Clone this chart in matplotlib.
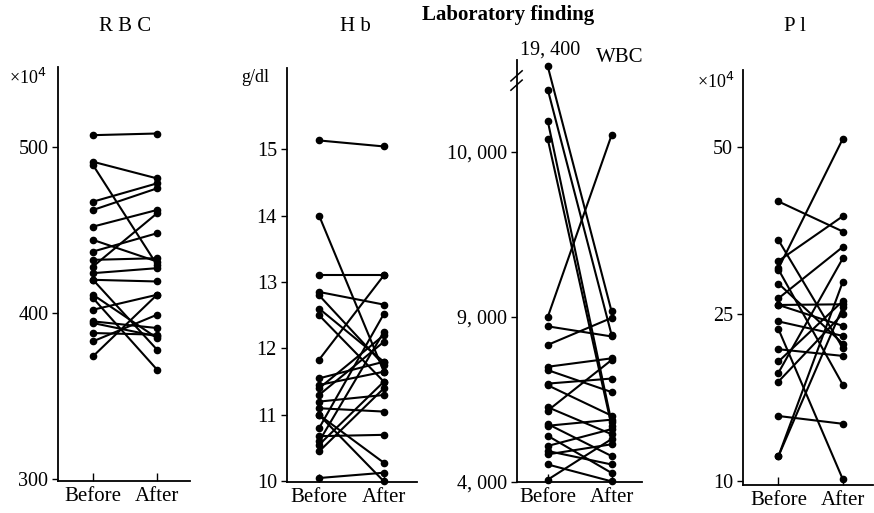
import numpy as np
import matplotlib
matplotlib.use("Agg")
import matplotlib.pyplot as plt

plt.rcParams['font.family'] = ['Liberation Serif', 'DejaVu Serif']

# values (before / after for each patient)
rbc_before = [507, 491, 489, 467, 462, 452, 444, 437, 432, 428, 424, 420, 420, 411, 409, 402, 395, 394, 388, 383, 374]
rbc_after = [508, 481, 429, 478, 475, 462, 431, 448, 433, 460, 427, 419, 378, 385, 366, 411, 391, 386, 387, 399, 411]

hb_before = [15.13, 14.0, 13.1, 12.85, 12.8, 12.6, 12.5, 11.83, 11.55, 11.45, 11.4, 11.3, 11.2, 11.1,
             11.0, 11.0, 10.8, 10.68, 10.6, 10.55, 10.45, 10.05]
hb_after = [15.04, 11.65, 13.1, 12.66, 11.75, 11.8, 11.5, 13.1, 11.8, 11.65, 12.2, 12.1, 11.3, 11.05,
            10.0, 10.28, 12.52, 10.7, 12.25, 11.5, 11.4, 10.13]

wbc_before = [19400, 10377, 10186, 10076, 9000, 8714, 8153, 7490, 7388, 6980, 6929, 6265, 6163,
              5755, 5704, 5398, 5092, 4939, 4837, 4531, 4071]
wbc_after = [9034, 8459, 5806, 5704, 10100, 8408, 8969, 7745, 6724, 7133, 6010, 5449, 7694,
             4786, 5888, 4276, 5602, 4531, 5143, 4020, 5300]

pl_before = [41.8, 36.0, 32.9, 31.8, 31.6, 29.5, 27.3, 26.3, 26.3, 24.3, 23.6, 21.8, 20.7, 19.7,
             18.9, 15.8, 12.2, 12.2]
pl_after = [37.3, 21.9, 39.6, 51.2, 18.6, 22.3, 35.0, 26.4, 23.9, 23.0, 10.1, 21.2, 26.9, 33.3,
            25.0, 15.1, 29.8, 26.0]

# the printed axes are not linear, so use piecewise scales that follow the printed ticks
wbc_vals = [4000, 9000, 10000, 10500, 19400, 30000]
wbc_pos = [0, 1, 2, 2.5, 2.517, 2.6]
pl_vals = [0, 10, 25, 50, 100]
pl_pos = [-10 / 15, 0, 1, 2, 4]


def fwd(v, p):
    return lambda x: np.interp(x, v, p)


def inv(v, p):
    return lambda x: np.interp(x, p, v)


fig = plt.figure(figsize=(8.74, 5.13), dpi=100)

ax1 = fig.add_axes([0.0664, 0.0624, 0.151, 0.807])
ax2 = fig.add_axes([0.328, 0.0604, 0.149, 0.807])
ax3 = fig.add_axes([0.591, 0.0604, 0.143, 0.823])
ax4 = fig.add_axes([0.850, 0.0546, 0.149, 0.809])

ax3.set_yscale('function', functions=(fwd(wbc_vals, wbc_pos), inv(wbc_vals, wbc_pos)))
ax4.set_yscale('function', functions=(fwd(pl_vals, pl_pos), inv(pl_vals, pl_pos)))

panels = [(ax1, rbc_before, rbc_after), (ax2, hb_before, hb_after),
          (ax3, wbc_before, wbc_after), (ax4, pl_before, pl_after)]

for ax, b, a in panels:
    for i in range(len(b)):
        ax.plot([0, 1], [b[i], a[i]], '-o', color='black', lw=1.5, ms=4.5, clip_on=False)
    ax.spines['top'].set_visible(False)
    ax.spines['right'].set_visible(False)
    ax.spines['left'].set_linewidth(1.3)
    ax.spines['bottom'].set_linewidth(1.3)
    ax.set_xticks([0, 1])
    ax.set_xticklabels(['Before', 'After'], fontsize=15)
    ax.tick_params(axis='x', direction='in', length=6, width=1, pad=4)
    ax.tick_params(axis='y', direction='out', length=4, width=1, labelsize=14.5, pad=3)

ax1.set_xlim(-0.547, 1.516)
ax1.set_ylim(299, 548)
ax1.set_yticks([300, 400, 500])

ax2.set_xlim(-0.5, 1.51)
ax2.set_ylim(9.99, 16.22)
ax2.set_yticks([10, 11, 12, 13, 14, 15])

ax3.set_xlim(-0.49, 1.47)
ax3.set_ylim(4000, 24500)
ax3.set_yticks([4000, 9000, 10000])
ax3.set_yticklabels(['4, 000', '9, 000', '10, 000'])

ax4.set_xlim(-0.553, 1.47)
ax4.set_ylim(9.6, 61.5)
ax4.set_yticks([10, 25, 50])

# break mark on the WBC axis
ax3.plot([-0.02, 0.0], [0.951, 0.951], color='white', lw=4, transform=ax3.transAxes, clip_on=False)
for yy in [0.94, 0.962]:
    ax3.plot([-0.045, 0.045], [yy - 0.012, yy + 0.012], color='black', lw=1.1,
             transform=ax3.transAxes, clip_on=False)

# titles and unit labels
fig.text(508 / 874, 1 - 15 / 513, 'Laboratory finding', ha='center', va='center', fontsize=15, fontweight='bold')
fig.text(125 / 874, 1 - 27 / 513, 'R B C', ha='center', va='center', fontsize=15)
fig.text(355 / 874, 1 - 27 / 513, 'H b', ha='center', va='center', fontsize=15)
fig.text(620 / 874, 1 - 57 / 513, 'WBC', ha='center', va='center', fontsize=15)
fig.text(795 / 874, 1 - 27 / 513, 'P l', ha='center', va='center', fontsize=15)
fig.text(550 / 874, 1 - 50 / 513, '19, 400', ha='center', va='center', fontsize=14.5)
fig.text(28 / 874, 1 - 78 / 513, '×10$^4$', ha='center', va='center', fontsize=13)
fig.text(255 / 874, 1 - 78 / 513, 'g/dl', ha='center', va='center', fontsize=13)
fig.text(716 / 874, 1 - 82 / 513, '×10$^4$', ha='center', va='center', fontsize=13)

fig.savefig('out.png', dpi=100)
